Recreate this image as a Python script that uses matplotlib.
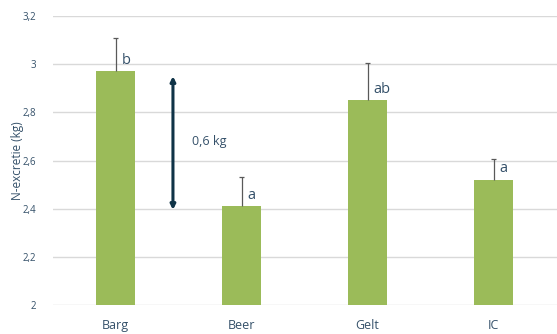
import matplotlib
matplotlib.use("Agg")
import matplotlib.pyplot as plt

plt.rcParams['font.family'] = ['Open Sans', 'DejaVu Sans']

categories = ["Barg", "Beer", "Gelt", "IC"]
values = [2.97, 2.41, 2.85, 2.52]
errors = [0.14, 0.12, 0.155, 0.085]
letters = ["b", "a", "ab", "a"]
yticks = [2.0, 2.2, 2.4, 2.6, 2.8, 3.0, 3.2]
ytick_labels = ["2", "2,2", "2,4", "2,6", "2,8", "3", "3,2"]
diff_range = (2.395, 2.95)
diff_label = "0,6 kg"

text_col = "#345069"
fig = plt.figure(figsize=(5.57, 3.34), dpi=100)
ax = fig.add_axes([52.5 / 557, 29 / 334, 504 / 557, 289 / 334])

x = list(range(len(categories)))
ax.bar(x, [v - 2 for v in values], bottom=2, width=0.31, color="#9bbb59", zorder=3)

# upper-only error bars with a small cap at the top
tops = [v + e for v, e in zip(values, errors)]
ax.vlines(x, values, tops, color="#595959", lw=0.9, zorder=4)
ax.hlines(tops, [xi - 0.018 for xi in x], [xi + 0.018 for xi in x],
          color="#595959", lw=0.9, zorder=4)

for xi, v, lab in zip(x, values, letters):
    ax.text(xi + 0.05, v + 0.045, lab, ha="left", va="center",
            fontsize=10.5, color=text_col, zorder=5)

ax.annotate("", xy=(0.456, diff_range[0]), xytext=(0.456, diff_range[1]),
            arrowprops=dict(arrowstyle="<|-|>", color="#0f3347", lw=2.2,
                            mutation_scale=7, shrinkA=0, shrinkB=0))
ax.text(0.61, 2.68, diff_label, ha="left", va="center", fontsize=9, color=text_col)

ax.set_xlim(-0.5, len(categories) - 0.5)
ax.set_ylim(2.0, 3.2)
ax.set_yticks(yticks)
ax.set_yticklabels(ytick_labels, fontsize=7, color=text_col)
ax.set_xticks(x)
ax.set_xticklabels(categories, fontsize=9, color=text_col)
ax.tick_params(axis="both", length=0)
ax.tick_params(axis="y", pad=12)
ax.tick_params(axis="x", pad=10)
ax.grid(axis="y", color="#d9d9d9", lw=1, zorder=0)
for s in ax.spines.values():
    s.set_visible(False)
ax.set_ylabel("N-excretie (kg)", fontsize=8.5, color=text_col)
ax.yaxis.set_label_coords(-0.057, 0.5)

fig.savefig("out.png", dpi=100)
